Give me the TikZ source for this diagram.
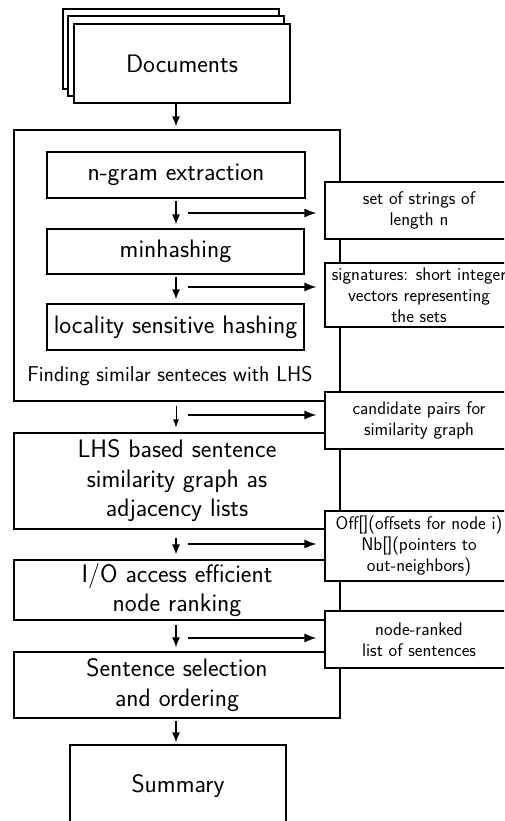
\documentclass[tikz,border=0pt]{standalone}
\usetikzlibrary{arrows.meta}
\begin{document}
\begin{tikzpicture}[x=1pt,y=-1pt,
  box/.style={draw, line width=1.1pt, fill=white, inner sep=0pt, align=center},
  big/.style={font=\sffamily\fontsize{25.3}{29.5}\selectfont},
  small/.style={font=\sffamily\fontsize{18.3}{21}\selectfont},
  mid/.style={font=\sffamily\fontsize{21.5}{24}\selectfont},
  flow/.style={-{Latex[length=10pt,width=8pt]}, line width=1.4pt},
  thinflow/.style={-{Latex[length=8pt,width=6pt]}, line width=0.9pt},
  side/.style={-{Latex[length=12pt,width=9pt]}, line width=1.6pt, shorten >=8pt},
]
\clip (0,0) rectangle (504,821);
\coordinate (ax) at (176,0);
% documents stack
\node[box, minimum width=216pt, minimum height=80pt] (doc3) at (171,49) {};
\node[box, minimum width=216pt, minimum height=80pt] (doc2) at (176,56) {};
\node[box, big, minimum width=216pt, minimum height=79pt] (doc1) at (182,63.5) {Documents};
% container
\node[box, minimum width=326pt, minimum height=271pt] (cont) at (177,265.5) {};
\node[box, big, minimum width=258pt, minimum height=46pt] (ngram) at (176,175) {n-gram extraction};
\node[box, big, minimum width=257pt, minimum height=45pt] (minh) at (175.5,251.5) {minhashing};
\node[box, big, minimum width=257pt, minimum height=46pt] (lsh) at (175.5,327) {locality sensitive hashing};
\node[mid] (find) at (170,376) {Finding similar senteces with LHS};
% lower main boxes
\node[box, big, minimum width=326pt, minimum height=96pt] (lhs) at (177,481) {LHS based sentence\\similarity graph as\\adjacency lists};
\node[box, big, minimum width=326pt, minimum height=60pt] (io) at (177,590) {I/O access efficient\\node ranking};
\node[box, big, minimum width=326pt, minimum height=66pt] (sel) at (177,685) {Sentence selection\\and ordering};
\node[box, big, minimum width=216pt, minimum height=80pt, text depth=0pt] (sum) at (178,785) {\raisebox{2pt}{Summary}};
% side boxes
\node[box, small, minimum width=188pt, minimum height=57pt] (s1) at (419,210.5) {set of strings of\\length n};
\node[box, small, minimum width=188pt, minimum height=64pt] (s2) at (419,295) {signatures: short integer\\vectors representing\\the sets};
\node[box, small, minimum width=188pt, minimum height=57pt] (s3) at (419,420.5) {candidate pairs for\\similarity graph};
\node[box, small, minimum width=188pt, minimum height=70pt] (s4) at (419,546) {Off[](offsets for node i)\\Nb[](pointers to\\out-neighbors)};
\node[box, small, minimum width=188pt, minimum height=57pt] (s5) at (419,639.5) {node-ranked\\list of sentences};
% vertical arrows
\draw[flow, shorten >=3pt] (doc1.south -| ax) -- (cont.north -| ax);
\draw[flow, shorten <=2pt, shorten >=4pt] (ngram.south -| ax) -- (minh.north -| ax);
\draw[flow, shorten <=2pt, shorten >=4pt] (minh.south -| ax) -- (lsh.north -| ax);
\draw[thinflow, shorten <=4pt, shorten >=5pt] (cont.south -| ax) -- (lhs.north -| ax);
\draw[flow, shorten <=8pt, shorten >=5pt] (lhs.south -| ax) -- (io.north -| ax);
\draw[flow, shorten <=4pt, shorten >=4pt] (io.south -| ax) -- (sel.north -| ax);
\draw[flow, shorten <=2pt, shorten >=2pt] (sel.south -| ax) -- (sum.north -| ax);
% horizontal arrows
\coordinate (h1) at (188,213);
\coordinate (h2) at (188,287);
\coordinate (h3) at (188,415);
\coordinate (h4) at (188,544);
\coordinate (h5) at (188,638);
\draw[side] (h1) -- (h1 -| s1.west);
\draw[side] (h2) -- (h2 -| s2.west);
\draw[side] (h3) -- (h3 -| s3.west);
\draw[side] (h4) -- (h4 -| s4.west);
\draw[side] (h5) -- (h5 -| s5.west);
\end{tikzpicture}
\end{document}
